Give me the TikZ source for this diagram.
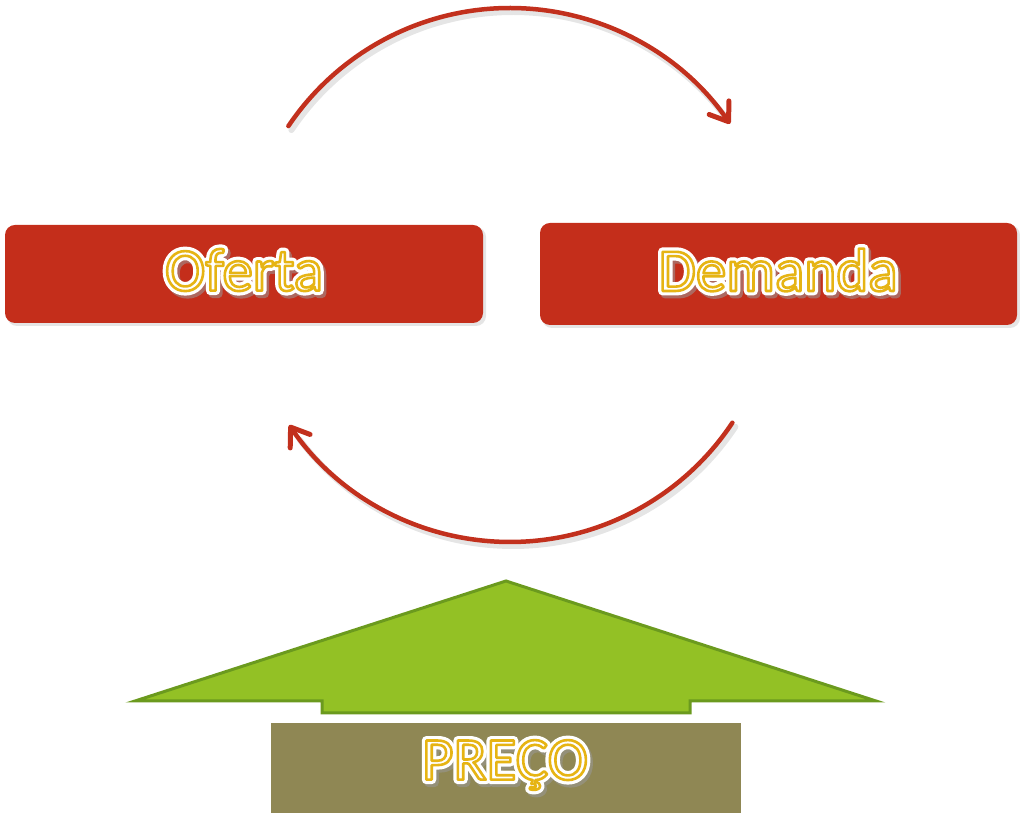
\documentclass[tikz,border=0pt]{standalone}
\usepackage{fontspec}
\setmainfont{Carlito}
\usetikzlibrary{arrows.meta}
\definecolor{boxred}{HTML}{C42E1B}
\definecolor{arcred}{HTML}{C2301D}
\definecolor{gfill}{HTML}{93C125}
\definecolor{gline}{HTML}{6B9A1E}
\definecolor{brown}{HTML}{8F8754}
\newcommand{\wordfont}{\fontsize{61}{68}\selectfont}
% main: white fill, yellow stroke
\newcommand{\fancytext}[1]{{\wordfont\textcolor{white}{%
  \special{pdf:literal direct 2 Tr 2.6 w 1 j 0.902 0.706 0.078 RG}#1%
  \special{pdf:literal direct 0 Tr}}}}
% white glow
\newcommand{\glowtext}[1]{{\wordfont\textcolor{white}{%
  \special{pdf:literal direct 2 Tr 9 w 1 j}#1%
  \special{pdf:literal direct 0 Tr}}}}
% shadow
\newcommand{\shadowtext}[1]{{\wordfont\textcolor{black!40}{%
  \special{pdf:literal direct 2 Tr 9 w 1 j}#1%
  \special{pdf:literal direct 0 Tr}}}}
\tikzset{
  redbox/.style={fill=boxred, rounded corners=10pt, draw=none},
  arcline/.style={draw=arcred, line width=4.5pt, line cap=round,
    -{Straight Barb[length=17pt,width=24pt,line width=5pt,round]}},
  arcshadow/.style={draw=black!20, line width=6pt, line cap=round, opacity=0.5},
  lbl/.style={inner sep=0pt, anchor=center},
}
\begin{document}
\begin{tikzpicture}[x=1pt,y=1pt]
\useasboundingbox (0,0) rectangle (1020,816);
\coordinate (c) at (510,541);
% arcs shadows
\draw[arcshadow] ([shift={(3,-4)}]c) ++(146.1:267) arc[start angle=146.1, end angle=37, radius=267];
\draw[arcshadow] ([shift={(3,-4)}]c) ++(-33.6:267) arc[start angle=-33.6, end angle=-143, radius=267];
% arcs
\draw[arcline] (c) ++(146.1:267) coordinate (a1s) arc[start angle=146.1, end angle=34.5, radius=267] coordinate (a1e);
\draw[arcline] (c) ++(-33.6:267) coordinate (a2s) arc[start angle=-33.6, end angle=-145.8, radius=267] coordinate (a2e);
% boxes
\fill[black!25, rounded corners=10pt, opacity=0.4] (7,490) rectangle (486,589);
\fill[black!25, rounded corners=10pt, opacity=0.4] (542,488) rectangle (1020,591);
\node[redbox, minimum width=478pt, minimum height=98pt] (of) at (244,542) {};
\node[redbox, minimum width=477pt, minimum height=102pt] (de) at (778.5,542) {};
% texts
\node[lbl, opacity=0.55] at (246.5,543) {\shadowtext{Oferta}};
\node[lbl] at (244,546) {\glowtext{Oferta}};
\node[lbl] (oft) at (244,546) {\fancytext{Oferta}};
\node[lbl, opacity=0.55] at (780.5,543) {\shadowtext{Demanda}};
\node[lbl] at (778,546) {\glowtext{Demanda}};
\node[lbl] (det) at (778,546) {\fancytext{Demanda}};
% green arrow
\draw[fill=gfill, draw=gline, line width=3pt, line join=miter]
  (135,115) -- (322,115) -- (322,103) -- (690,103) -- (690,115) -- (876,115) -- (506,235) -- cycle;
% price box
\node[fill=brown, minimum width=470pt, minimum height=90pt, inner sep=0pt] (pr) at (506,48) {};
\node[lbl, opacity=0.55] at (507.5,48) {\shadowtext{PREÇO}};
\node[lbl] at (505,51) {\glowtext{PREÇO}};
\node[lbl] (prt) at (505,51) {\fancytext{PREÇO}};
\end{tikzpicture}
\end{document}
